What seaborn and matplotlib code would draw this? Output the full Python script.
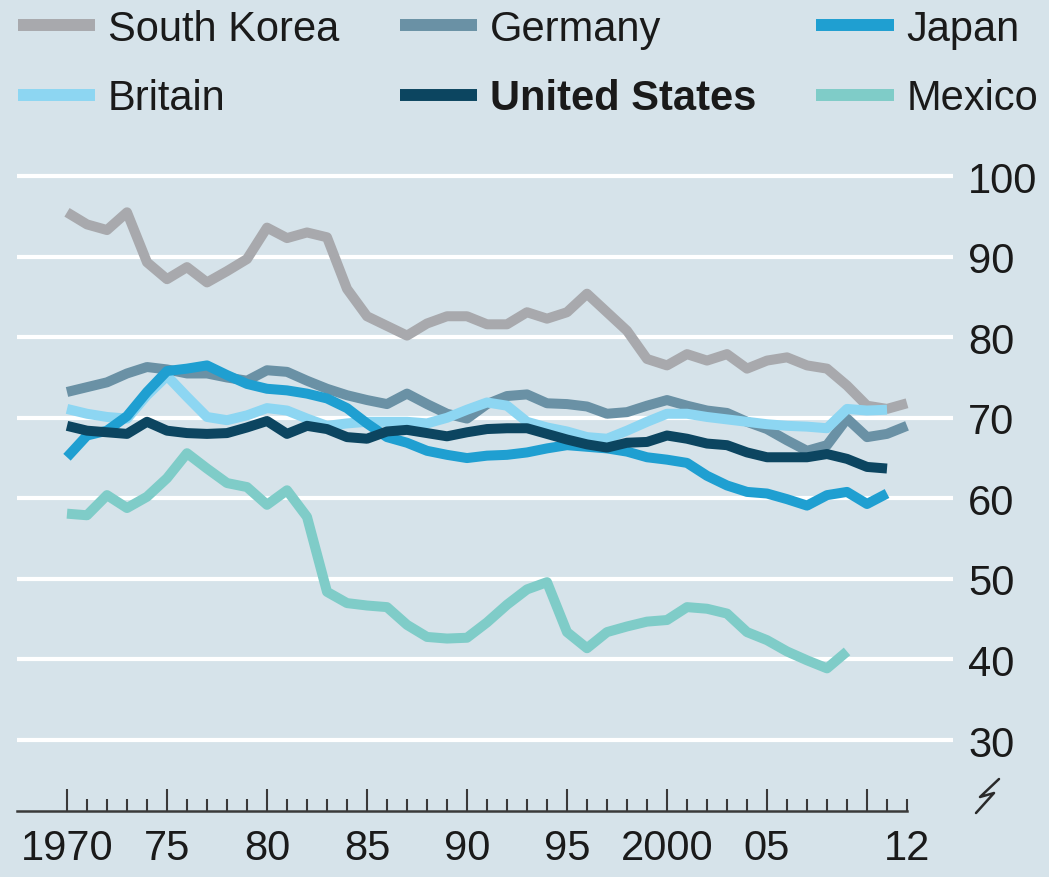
import pandas as pd
import seaborn as sns
import matplotlib.pyplot as plt
from matplotlib.lines import Line2D

# Datos (1970-2012)
years = list(range(1970, 2013))

south_korea = [95.5, 94.0, 93.3, 95.5, 89.3, 87.2, 88.7, 86.8, 88.2, 89.7,
               93.6, 92.3, 93.0, 92.4, 86.0, 82.6, 81.4, 80.2, 81.7, 82.6,
               82.6, 81.6, 81.6, 83.1, 82.3, 83.1, 85.4, 83.1, 80.8, 77.3,
               76.5, 77.9, 77.1, 77.9, 76.1, 77.1, 77.5, 76.5, 76.1, 74.0,
               71.5, 71.1, 71.8]
germany = [73.2, 73.8, 74.4, 75.5, 76.3, 76.0, 75.5, 75.5, 75.0, 74.6,
           75.9, 75.7, 74.6, 73.6, 72.8, 72.2, 71.7, 73.0, 71.7, 70.5,
           69.9, 71.7, 72.7, 72.9, 71.8, 71.7, 71.4, 70.5, 70.7, 71.5,
           72.2, 71.5, 70.9, 70.6, 69.5, 68.6, 67.2, 65.9, 66.6, 69.9,
           67.6, 68.0, 69.0]
japan = [65.1, 67.8, 68.4, 70.2, 73.2, 75.8, 76.1, 76.5, 75.3, 74.2,
         73.6, 73.4, 73.0, 72.4, 71.2, 69.3, 67.6, 66.9, 65.9, 65.4,
         65.0, 65.3, 65.4, 65.7, 66.2, 66.6, 66.4, 66.2, 65.8, 65.1,
         64.8, 64.4, 62.8, 61.6, 60.8, 60.6, 59.9, 59.1, 60.4, 60.8,
         59.3, 60.6]
britain = [71.1, 70.5, 70.1, 69.9, 72.8, 75.2, 72.6, 70.1, 69.7, 70.3,
           71.2, 70.9, 69.9, 69.0, 69.3, 69.5, 69.5, 69.5, 69.3, 70.0,
           71.0, 71.9, 71.5, 69.5, 68.8, 68.3, 67.6, 67.4, 68.4, 69.5,
           70.5, 70.5, 70.1, 69.8, 69.5, 69.2, 69.0, 68.9, 68.7, 71.1,
           70.9, 71.0]
united_states = [69.0, 68.4, 68.2, 68.0, 69.5, 68.4, 68.1, 68.0, 68.1, 68.8,
                 69.6, 68.0, 69.0, 68.6, 67.6, 67.4, 68.3, 68.5, 68.1, 67.7,
                 68.2, 68.6, 68.7, 68.7, 68.0, 67.3, 66.7, 66.3, 66.9, 67.0,
                 67.8, 67.4, 66.8, 66.6, 65.7, 65.1, 65.1, 65.1, 65.5, 64.9,
                 63.9, 63.7]
mexico = [58.1, 57.9, 60.4, 58.8, 60.2, 62.5, 65.6, 63.7, 61.9, 61.4,
          59.2, 61.0, 57.7, 48.4, 47.0, 46.7, 46.5, 44.3, 42.8, 42.6,
          42.7, 44.6, 46.8, 48.7, 49.6, 43.4, 41.4, 43.4, 44.1, 44.7,
          44.9, 46.5, 46.3, 45.7, 43.4, 42.4, 41.0, 39.9, 38.9, 41.0]

y_ticks = [30, 40, 50, 60, 70, 80, 90, 100]
x_major = [1970, 1975, 1980, 1985, 1990, 1995, 2000, 2005, 2010, 2012]
x_labels = ['1970', '75', '80', '85', '90', '95', '2000', '05', '', '12']

colores = {
    'South Korea': '#a8a9ad',
    'Germany': '#6a91a5',
    'Japan': '#1f9fd1',
    'Britain': '#8dd6f2',
    'United States': '#0c4560',
    'Mexico': '#7fccc8',
}
datos = {
    'South Korea': south_korea,
    'Germany': germany,
    'Britain': britain,
    'Japan': japan,
    'United States': united_states,
    'Mexico': mexico,
}

sns.set_theme(style='white')
plt.rcParams['font.family'] = ['Liberation Sans', 'DejaVu Sans']

fondo = '#d6e3ea'
fig = plt.figure(figsize=(10.49, 8.78), dpi=100, facecolor=fondo)
ax = fig.add_axes([0.0162, 0.0752, 0.8923, 0.7369])
ax.set_facecolor(fondo)

for pais, valores in datos.items():
    df = pd.DataFrame({'anio': years[:len(valores)], 'valor': valores})
    sns.lineplot(data=df, x='anio', y='valor', color=colores[pais], lw=7.2,
                 ax=ax, solid_capstyle='butt', solid_joinstyle='round')

ax.set_xlim(1967.5, 2014.3)
ax.set_ylim(21.2, 101.5)
ax.set_xlabel('')
ax.set_ylabel('')

# eje y a la derecha, con lineas blancas
ax.set_yticks(y_ticks)
ax.yaxis.tick_right()
ax.yaxis.grid(True, color='white', lw=3)
ax.set_axisbelow(True)
ax.tick_params(axis='y', length=0, pad=11, labelsize=30, labelcolor='#1a1a1a')

# eje x con marcas hacia arriba
ax.set_xticks(x_major)
ax.set_xticklabels(x_labels)
ax.set_xticks(years, minor=True)
ax.tick_params(axis='x', which='major', direction='in', length=16, width=1.5,
               color='#3a3a3a', pad=12, labelsize=30, labelcolor='#1a1a1a',
               bottom=True)
ax.tick_params(axis='x', which='minor', direction='in', length=8.6, width=1.5,
               color='#3a3a3a', bottom=True)
ax.xaxis.get_major_ticks()[-1].tick1line.set_markersize(8.6)

for lado in ['top', 'left', 'right']:
    ax.spines[lado].set_visible(False)
ax.spines['bottom'].set_bounds(1967.5, 2012)
ax.spines['bottom'].set_color('#3a3a3a')
ax.spines['bottom'].set_linewidth(1.8)

# simbolo de corte del eje
W, H = 1049, 878
zx = [999, 980, 994, 976]
zy = [780, 798, 794, 814]
fig.add_artist(Line2D([p / W for p in zx], [1 - p / H for p in zy],
                      color='#2a2a2a', lw=1.8, transform=fig.transFigure))

# leyenda en dos filas
orden = ['South Korea', 'Britain', 'Germany', 'United States', 'Japan', 'Mexico']
handles = [Line2D([0], [0], color=colores[p], lw=8.6, solid_capstyle='butt') for p in orden]
leg = fig.legend(handles, orden, ncol=3, loc='upper left',
                 bbox_to_anchor=(18 / W, 1 - 10 / H), frameon=False, fontsize=30,
                 handlelength=1.85, handletextpad=0.31, columnspacing=1.45,
                 labelspacing=0.7, borderpad=0, borderaxespad=0)
for t in leg.get_texts():
    t.set_color('#1a1a1a')
    if t.get_text() == 'United States':
        t.set_fontweight('bold')

fig.savefig('out.png', dpi=100, facecolor=fondo)
